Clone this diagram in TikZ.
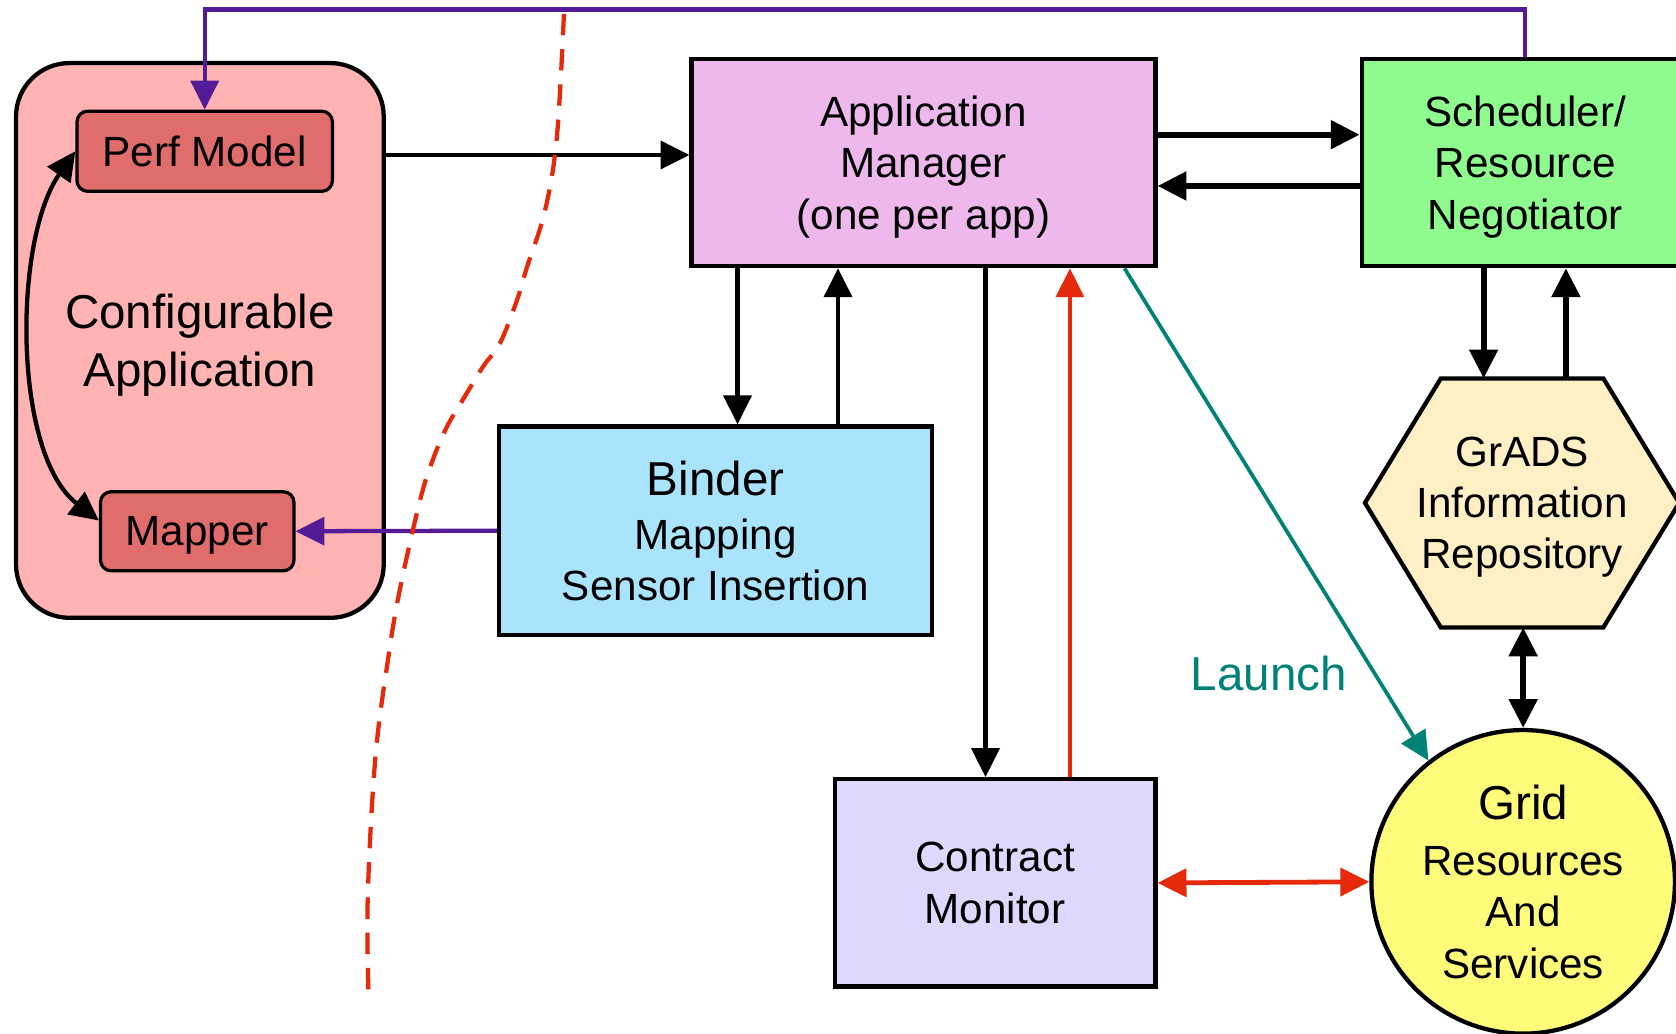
\documentclass[tikz,border=0pt]{standalone}
\usepackage{fontspec}
\setmainfont{Liberation Sans}
\usetikzlibrary{arrows.meta,shapes.geometric}

\definecolor{apppink}{HTML}{FFB3B3}
\definecolor{modelred}{HTML}{E06C6C}
\definecolor{mgrviolet}{HTML}{EEB8EC}
\definecolor{schedgreen}{HTML}{8FFB8F}
\definecolor{bindblue}{HTML}{A9E4FC}
\definecolor{monlav}{HTML}{E0D7FE}
\definecolor{repocream}{HTML}{FEEFC4}
\definecolor{gridyellow}{HTML}{FFFB7A}
\definecolor{linkpurple}{HTML}{541B99}
\definecolor{alertred}{HTML}{E42A0A}
\definecolor{launchteal}{HTML}{008276}

\begin{document}
\begin{tikzpicture}[x=1pt,y=-1pt,
  txt/.style={font=\fontsize{39.5}{48}\selectfont, align=center, text depth=0pt},
  bigtxt/.style={font=\fontsize{44.5}{54}\selectfont, align=center, text depth=0pt},
  box/.style={draw=black, line width=4pt, inner sep=0pt, txt},
  subbox/.style={draw=black, line width=3pt, rounded corners=10pt,
                 fill=modelred, inner sep=0pt, txt},
  tip/.style={-{Triangle[length=27pt,width=26pt]}},
  twotips/.style={{Triangle[length=27pt,width=26pt]}-{Triangle[length=27pt,width=26pt]}},
  link/.style={line width=4pt, black},
  heavy/.style={line width=5.5pt, black},
]
\clip (0,0) rectangle (1568,967);

% application side
\node[box, fill=apppink, rounded corners=50pt, minimum width=344pt,
      minimum height=519pt, bigtxt] (capp) at (187,318.5)
      {Configurable\\Application};
\node[subbox, minimum width=239pt, minimum height=75pt] (perf) at (191.5,141.5) {Perf Model};
\node[subbox, minimum width=181pt, minimum height=74pt] (mapper) at (184.5,497) {Mapper};

% middleware boxes
\node[box, fill=mgrviolet, minimum width=434pt, minimum height=194pt] (appmgr)
      at (864,152) {Application\\Manager\\(one per app)};
\node[box, fill=schedgreen, minimum width=306pt, minimum height=194pt] (sched)
      at (1427,152) {Scheduler/\\Resource\\Negotiator};
\node[box, fill=bindblue, minimum width=405pt, minimum height=195pt] (binder)
      at (669.5,496.5) {{\fontsize{44.5}{48}\selectfont Binder}\\[2pt]Mapping\\Sensor Insertion};
\node[box, fill=monlav, minimum width=300pt, minimum height=194pt] (monitor)
      at (931,826) {Contract\\Monitor};

% information repository (hexagon)
\coordinate (hexTL) at (1348,354);
\coordinate (hexTR) at (1500,354);
\coordinate (hexR)  at (1571,470.5);
\coordinate (hexBR) at (1500,587);
\coordinate (hexBL) at (1348,587);
\coordinate (hexL)  at (1277,470.5);
\draw[line width=4pt, fill=repocream, line join=miter]
  (hexTL) -- (hexTR) -- (hexR) -- (hexBR) -- (hexBL) -- (hexL) -- cycle;
\node[txt] (repo) at (1424,470.5) {GrADS\\Information\\Repository};
\coordinate (repoIn)  at (1388,354);
\coordinate (repoOut) at (1465,354);
\coordinate (repoBot) at (1425,587);

% grid resources
\node[box, circle, fill=gridyellow, minimum size=284pt] (grid) at (1425,825)
      {{\fontsize{44.5}{48}\selectfont Grid}\\[4pt]Resources\\And\\Services};

% connectors
\coordinate (mgrIn) at ([yshift=7pt]appmgr.west);
\draw[link, tip] (capp.east |- mgrIn) -- (mgrIn);

\draw[heavy, tip] ([yshift=26pt]appmgr.east) -- ([yshift=26pt]sched.west);
\draw[heavy, tip] ([yshift=-22pt]sched.west) -- ([yshift=-22pt]appmgr.east);

\coordinate (bindDown) at (690,0);
\coordinate (bindUp)   at (784,0);
\coordinate (monDown)  at (922,0);
\coordinate (monUp)    at (1001,0);
\coordinate (launchX)  at (1052,0);

\draw[link, tip] (appmgr.south -| bindDown) -- (binder.north -| bindDown);
\draw[link, tip] (binder.north -| bindUp) -- (appmgr.south -| bindUp);
\draw[link, tip] (appmgr.south -| monDown) -- (monitor.north -| monDown);
\draw[line width=4pt, alertred, tip] (monitor.north -| monUp) -- (appmgr.south -| monUp);
\draw[line width=4.5pt, alertred, twotips] (monitor.east) -- (grid.west);

\draw[line width=3.5pt, launchteal, tip] (appmgr.south -| launchX) -- (grid.128);
\node[bigtxt, text=launchteal] (launch) at (1187,630) {Launch};

\draw[heavy, tip] (sched.south -| repoIn) -- (repoIn);
\draw[heavy, tip] (repoOut) -- (sched.south -| repoOut);
\draw[heavy, twotips] (repoBot) -- (repoBot |- grid.north);

\draw[link, twotips] (perf.west) .. controls (12,225) and (12,425) .. ([yshift=10pt]mapper.west);

\draw[line width=4pt, linkpurple, tip] (binder.west) -- (mapper.east);
\draw[line width=4pt, linkpurple, tip] (sched.north) -- ++(0,-44) -| (perf.north);

% boundary between application and system layers
\draw[alertred, line width=4pt, dash pattern=on 20pt off 13pt]
  plot[smooth, tension=0.6] coordinates {
    (527.6,13) (521,128) (510,196.5) (493,250) (483.7,280.7) (467.8,321)
    (451.9,343) (433,374) (418,399.5) (405,430) (393,468) (374,552)
    (363,617) (351,711) (344,842) (345,937)};
\end{tikzpicture}
\end{document}
